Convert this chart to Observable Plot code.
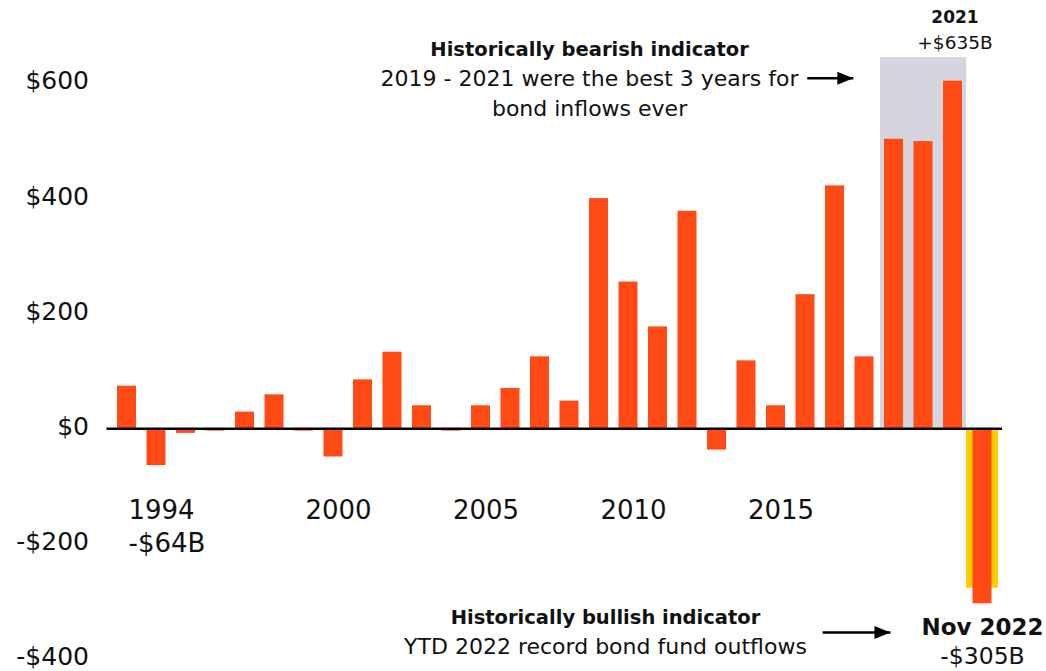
<!DOCTYPE html>
<html>
<head>
<meta charset="utf-8">
<script src="https://cdn.jsdelivr.net/npm/d3@7"></script>
<script src="https://cdn.jsdelivr.net/npm/@observablehq/plot@0.6"></script>
<style>
  html, body { margin: 0; padding: 0; background: #fff; }
  #chart svg { display: block; }
</style>
</head>
<body>
<div id="chart"></div>
<script>
// ---- data ----
const years = [1993, 1994, 1995, 1996, 1997, 1998, 1999, 2000, 2001, 2002,
               2003, 2004, 2005, 2006, 2007, 2008, 2009, 2010, 2011, 2012,
               2013, 2014, 2015, 2016, 2017, 2018, 2019, 2020, 2021, 2022];
const flows = [74, -64, -8, -4, 29, 59, -4, -49, 85, 133,
               40, -4, 40, 70, 125, 48, 400, 255, 177, 378,
               -37, 118, 40, 233, 422, 125, 503, 499, 604, -304];
const yTicks = [-400, -200, 0, 200, 400, 600];
const xTickYears = [1994, 2000, 2005, 2010, 2015];
const bearishRange = [2019, 2021];
const bearishTop = [645];
const latestYear = [2022];
const latestHighlight = [-277];
const firstLabel = ["-$64B"];
const peakLabel = ["2021", "+$635B"];
const latestLabel = ["Nov 2022", "-$305B"];
const bearishText = ["Historically bearish indicator", "2019 - 2021 were the best 3 years for", "bond inflows ever"];
const bullishText = ["Historically bullish indicator", "YTD 2022 record bond fund outflows"];

// ---- styles ----
const ORANGE = "#ff4a16";
const GREY = "#d6d5de";
const YELLOW = "#ffcc00";
const INK = "#111";
const FONT = "'DejaVu Sans', 'Open Sans', sans-serif";
const half = 0.322;

const data = years.map((year, i) => ({year, value: flows[i]}));
const money = d => (d < 0 ? "-$" : "$") + Math.abs(d);

// custom right-pointing arrow head
const head = {draw(ctx) { ctx.moveTo(8, 0); ctx.lineTo(-8, -6.5); ctx.lineTo(-8, 6.5); ctx.closePath(); }};

const topArrow = [{x1: 2016.06, x2: 2017.62, y: 609}];
const botArrow = [{x1: 2016.58, x2: 2018.88, y: -354}];

const chart = Plot.plot({
  width: 1046,
  height: 671,
  marginLeft: 106.5,
  marginRight: 44,
  marginTop: 25.4,
  marginBottom: 12.5,
  style: {fontFamily: FONT, fontSize: "25px", background: "#fff", color: INK},
  x: {type: "linear", domain: [1992.322, 2022.678], axis: null},
  y: {domain: [-400, 700], axis: null},
  marks: [
    // shaded 2019-2021
    Plot.rect([bearishRange], {x1: d => d[0] - 0.46, x2: d => d[1] + 0.46, y1: () => 0, y2: () => bearishTop[0], fill: GREY}),
    // yellow highlight behind 2022
    Plot.rect(latestYear, {x1: d => d - 0.54, x2: d => d + 0.54, y1: () => 0, y2: (d, i) => latestHighlight[i], fill: YELLOW}),
    // bars
    Plot.rect(data, {x1: d => d.year - half, x2: d => d.year + half, y1: () => 0, y2: "value", fill: ORANGE}),
    // zero line
    Plot.ruleY([0], {stroke: "#000", strokeWidth: 2.5}),
    // y axis labels
    Plot.text(yTicks, {y: d => d, frameAnchor: "left", dx: -18, dy: -2, textAnchor: "end", text: money, fontSize: 25, fill: INK}),
    // x labels
    Plot.text(xTickYears, {x: d => d, y: () => -143, dx: 5, text: d => String(d), fontSize: 26, fill: INK}),
    Plot.text(firstLabel, {x: () => 1994, y: () => -200, dx: -28, text: d => d, textAnchor: "start", fontSize: 26, fill: INK}),
    // 2021 label
    Plot.text([peakLabel[0]], {x: () => 2021, y: () => 714, dx: 2, text: d => d, fontWeight: "bold", fontSize: 17, fill: INK}),
    Plot.text([peakLabel[1]], {x: () => 2021, y: () => 670.7, dx: 2, text: d => d, fontSize: 18.5, fill: INK}),
    // bearish annotation
    Plot.text([bearishText[0]], {x: () => 2008.68, y: () => 658, text: d => d, fontWeight: "bold", fontSize: 19.5, fill: INK}),
    Plot.text([bearishText[1]], {x: () => 2008.68, y: () => 608.5, text: d => d, fontSize: 22, fill: INK}),
    Plot.text([bearishText[2]], {x: () => 2008.68, y: () => 555.5, text: d => d, fontSize: 22, fill: INK}),
    Plot.link(topArrow, {x1: "x1", x2: "x2", y1: "y", y2: "y", stroke: "#000", strokeWidth: 2.5}),
    Plot.dot(topArrow, {x: "x2", y: "y", dx: -8, symbol: head, fill: "#000", stroke: "none"}),
    // bullish annotation
    Plot.text([bullishText[0]], {x: () => 2009.22, y: () => -329, text: d => d, fontWeight: "bold", fontSize: 19.5, fill: INK}),
    Plot.text([bullishText[1]], {x: () => 2009.22, y: () => -379, text: d => d, fontSize: 22, fill: INK}),
    Plot.link(botArrow, {x1: "x1", x2: "x2", y1: "y", y2: "y", stroke: "#000", strokeWidth: 2.5}),
    Plot.dot(botArrow, {x: "x2", y: "y", dx: -8, symbol: head, fill: "#000", stroke: "none"}),
    // 2022 label
    Plot.text([latestLabel[0]], {x: () => 2022, y: () => -346, text: d => d, fontWeight: "bold", fontSize: 23, fill: INK}),
    Plot.text([latestLabel[1]], {x: () => 2022, y: () => -400, dy: -2.5, text: d => d, fontSize: 23.5, fill: INK})
  ]
});
document.getElementById("chart").appendChild(chart);
</script>
</body>
</html>
